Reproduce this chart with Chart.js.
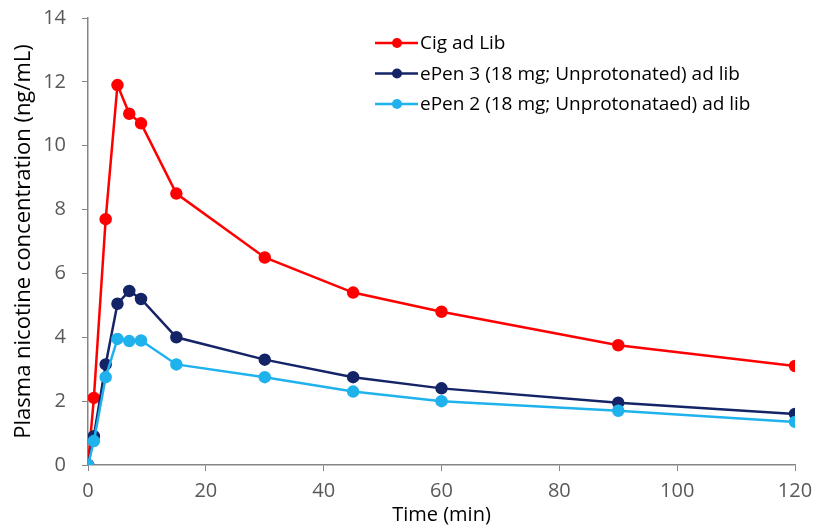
<!DOCTYPE html>
<html>
<head>
<meta charset="utf-8">
<script src="https://cdn.jsdelivr.net/npm/chart.js@4.4.0/dist/chart.umd.min.js"></script>
<style>
  html, body { margin: 0; padding: 0; background: #fff; }
  #wrap { width: 817px; height: 529px; }
</style>
</head>
<body>
<div id="wrap"><canvas id="chart" width="817" height="529"></canvas></div>
<script>
// Thời gian (phút)
const times = [0, 1, 3, 5, 7, 9, 15, 30, 45, 60, 90, 120];

// Nồng độ nicotine (ng/mL)
const cigValues = [0, 2.1, 7.7, 11.9, 11.0, 10.7, 8.5, 6.5, 5.4, 4.8, 3.75, 3.1];
const pen3Values = [0, 0.9, 3.15, 5.05, 5.45, 5.2, 4.0, 3.3, 2.75, 2.4, 1.95, 1.6];
const pen2Values = [0, 0.75, 2.75, 3.95, 3.88, 3.9, 3.15, 2.75, 2.3, 2.0, 1.7, 1.35];

const seriesNames = [
  'Cig ad Lib',
  'ePen 3 (18 mg; Unprotonated) ad lib',
  'ePen 2 (18 mg; Unprotonataed) ad lib'
];
const seriesColors = ['#ff0000', '#142466', '#1fb2ec'];
const xTicks = [0, 20, 40, 60, 80, 100, 120];
const yTicks = [0, 2, 4, 6, 8, 10, 12, 14];

const FONT = '"Open Sans", Lato, sans-serif';

function toPoints(vals) {
  return vals.map((v, i) => ({ x: times[i], y: v }));
}

const allValues = [cigValues, pen3Values, pen2Values];
// vẽ ePen 2 trước để các đường đậm nằm trên
const order = [2, 1, 0];

// Chú thích tự vẽ bên trong vùng biểu đồ
const insideLegend = {
  id: 'insideLegend',
  afterDraw(chart) {
    const ctx = chart.ctx;
    const x0 = 375, y0 = 43, gap = 30.5;
    ctx.save();
    ctx.font = '19px ' + FONT;
    ctx.textBaseline = 'middle';
    seriesNames.forEach((name, i) => {
      const y = y0 + i * gap;
      ctx.strokeStyle = seriesColors[i];
      ctx.lineWidth = 2.5;
      ctx.beginPath();
      ctx.moveTo(x0, y);
      ctx.lineTo(x0 + 43, y);
      ctx.stroke();
      ctx.fillStyle = seriesColors[i];
      ctx.beginPath();
      ctx.arc(x0 + 22, y, 5, 0, Math.PI * 2);
      ctx.fill();
      ctx.fillStyle = '#000';
      ctx.fillText(name, x0 + 45, y + 1);
    });
    ctx.restore();
  }
};

const ctx = document.getElementById('chart').getContext('2d');
window.myChart = new Chart(ctx, {
  type: 'line',
  data: {
    datasets: order.map(i => ({
      label: seriesNames[i],
      data: toPoints(allValues[i]),
      borderColor: seriesColors[i],
      backgroundColor: seriesColors[i],
      borderWidth: 2.5,
      pointRadius: 5,
      pointHoverRadius: 5,
      tension: 0,
      fill: false
    }))
  },
  options: {
    responsive: false,
    animation: false,
    layout: { padding: { left: 11, right: 22, top: 18, bottom: 2 } },
    plugins: {
      legend: { display: false },
      tooltip: { enabled: false }
    },
    scales: {
      x: {
        type: 'linear',
        min: 0,
        max: 120,
        afterBuildTicks: s => { s.ticks = xTicks.map(v => ({ value: v })); },
        afterFit: s => { s.height = 62; s.paddingLeft = 0; s.paddingRight = 0; },
        grid: {
          display: true,
          drawOnChartArea: false,
          drawTicks: true,
          tickLength: 6,
          color: '#868686'
        },
        border: { color: '#868686', width: 1.5 },
        ticks: {
          color: '#595959',
          font: { family: FONT, size: 20 },
          padding: 8,
          maxRotation: 0
        },
        title: {
          display: true,
          text: 'Time (min)',
          color: '#000',
          font: { family: FONT, size: 20 },
          padding: { top: 0, bottom: 0 }
        }
      },
      y: {
        min: 0,
        max: 14,
        afterBuildTicks: s => { s.ticks = yTicks.map(v => ({ value: v })); },
        afterFit: s => { s.width = 77; s.paddingTop = 0; s.paddingBottom = 0; },
        grid: {
          display: true,
          drawOnChartArea: false,
          drawTicks: true,
          tickLength: 6,
          color: '#868686'
        },
        border: { color: '#868686', width: 1.5 },
        ticks: {
          color: '#595959',
          font: { family: FONT, size: 20 },
          padding: 16
        },
        title: {
          display: true,
          text: 'Plasma nicotine concentration (ng/mL)',
          color: '#000',
          font: { family: FONT, size: 22 },
          padding: { top: 0, bottom: 6 }
        }
      }
    }
  },
  plugins: [insideLegend]
});
</script>
</body>
</html>
